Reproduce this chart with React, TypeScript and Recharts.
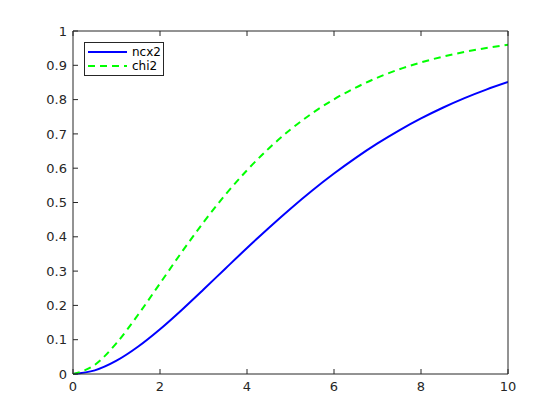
import React from 'react';
import { LineChart, Line, XAxis, YAxis, Legend } from 'recharts';

const xValues = [0, 0.5, 1, 1.5, 2, 2.5, 3, 3.5, 4, 4.5, 5, 5.5, 6, 6.5, 7, 7.5, 8, 8.5, 9, 9.5, 10];
const ncx2Values = [0, 0.0106, 0.0388, 0.0801, 0.1305, 0.1868, 0.2463, 0.307, 0.3673, 0.4259, 0.482, 0.535, 0.5844, 0.6302, 0.6722, 0.7105, 0.7451, 0.7763, 0.8043, 0.8291, 0.8512];
const chi2Values = [0, 0.0265, 0.0902, 0.1734, 0.2642, 0.3554, 0.4422, 0.5221, 0.594, 0.6574, 0.7127, 0.7603, 0.8009, 0.835, 0.8641, 0.8883, 0.9084, 0.9251, 0.9389, 0.9503, 0.9596];
const xTicks = [0, 2, 4, 6, 8, 10];
const yTicks = [0, 0.1, 0.2, 0.3, 0.4, 0.5, 0.6, 0.7, 0.8, 0.9, 1];
const yTickLabels = ['0', '0.1', '0.2', '0.3', '0.4', '0.5', '0.6', '0.7', '0.8', '0.9', '1'];
const seriesNames = ['ncx2', 'chi2'];

const data = xValues.map((x, i) => ({ x, ncx2: ncx2Values[i], chi2: chi2Values[i] }));

const AXIS = '#262626';
const FONT = '"DejaVu Sans", sans-serif';
const tickStyle = { fontSize: 13, fill: AXIS, fontFamily: FONT };
const noTick = () => <g />;

const LegendBox = () => (
  <div
    style={{
      boxSizing: 'border-box',
      width: 80,
      height: 34,
      border: `1px solid ${AXIS}`,
      background: '#fff',
      paddingTop: 2,
      fontFamily: FONT,
      fontSize: 12,
      color: '#000',
    }}
  >
    {[
      { name: seriesNames[0], color: '#0000ff', dash: undefined },
      { name: seriesNames[1], color: '#00ff00', dash: '7 5' },
    ].map((s) => (
      <div key={s.name} style={{ display: 'flex', alignItems: 'center', height: 14 }}>
        <svg width={40} height={14} style={{ marginLeft: 3, display: 'block' }}>
          <line x1={0} y1={7} x2={39} y2={7} stroke={s.color} strokeWidth={2} strokeDasharray={s.dash} />
        </svg>
        <span style={{ marginLeft: 4, lineHeight: '14px' }}>{s.name}</span>
      </div>
    ))}
  </div>
);

export default function App() {
  return (
    <div style={{ position: 'absolute', left: 0, top: 0, width: 560, height: 420, background: '#fff' }}>
      <LineChart
        width={560}
        height={420}
        data={data}
        margin={{ top: 30, right: 51, bottom: 16, left: 33 }}
      >
        <XAxis
          dataKey="x"
          type="number"
          domain={[0, 10]}
          ticks={xTicks}
          interval={0}
          height={30}
          stroke={AXIS}
          tickSize={-5}
          tickMargin={13}
          tick={tickStyle}
          allowDataOverflow
        />
        <XAxis
          xAxisId="top"
          orientation="top"
          dataKey="x"
          type="number"
          domain={[0, 10]}
          ticks={xTicks}
          interval={0}
          height={1}
          stroke={AXIS}
          tickSize={-5}
          tick={noTick}
        />
        <YAxis
          type="number"
          domain={[0, 1]}
          ticks={yTicks}
          interval={0}
          width={40}
          stroke={AXIS}
          tickSize={-5}
          tickMargin={11}
          tick={tickStyle}
          tickFormatter={(v: number) => yTickLabels[yTicks.indexOf(v)] ?? String(v)}
        />
        <YAxis
          yAxisId="right"
          orientation="right"
          type="number"
          domain={[0, 1]}
          ticks={yTicks}
          interval={0}
          width={1}
          stroke={AXIS}
          tickSize={-5}
          tick={noTick}
        />
        <Legend
          layout="vertical"
          align="center"
          verticalAlign="middle"
          content={() => <LegendBox />}
          wrapperStyle={{ position: 'absolute', left: 84, top: 42, width: 80, height: 34 }}
        />
        <Line
          name={seriesNames[0]}
          dataKey="ncx2"
          type="monotone"
          stroke="#0000ff"
          strokeWidth={2}
          dot={false}
          isAnimationActive={false}
        />
        <Line
          name={seriesNames[1]}
          dataKey="chi2"
          type="monotone"
          stroke="#00ff00"
          strokeWidth={2}
          strokeDasharray="7 5"
          dot={false}
          isAnimationActive={false}
        />
      </LineChart>
    </div>
  );
}
